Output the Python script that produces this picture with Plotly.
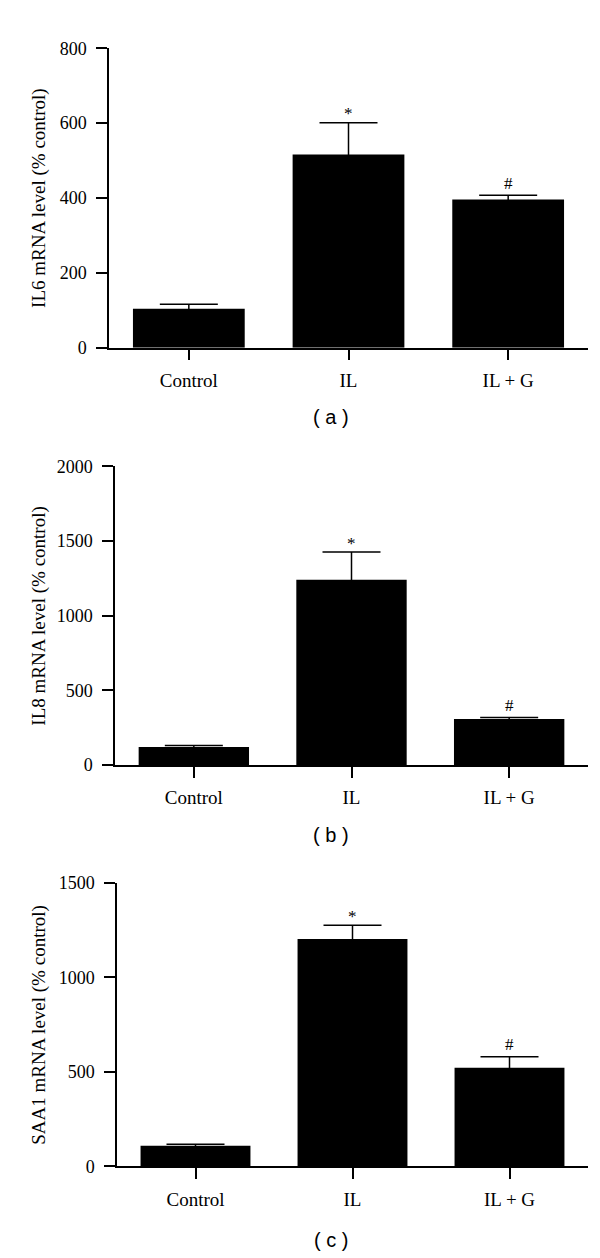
import plotly.graph_objects as go

categories = ["Control", "IL", "IL + G"]
il6_mean = [104, 516, 396]
il6_err = [12, 85, 11]
il8_mean = [121, 1241, 308]
il8_err = [9, 185, 10]
saa1_mean = [110, 1204, 523]
saa1_err = [7, 72, 58]
marks = ["", "*", "#"]

panels = [
    dict(mean=il6_mean, err=il6_err, title="IL6 mRNA level (% control)", ymax=800, dtick=200,
         xdom=[101, 580], ypx=[30.7, 335], label="( a )", label_y=405),
    dict(mean=il8_mean, err=il8_err, title="IL8 mRNA level (% control)", ymax=2000, dtick=500,
         xdom=[107, 580], ypx=[455.7, 759], label="( b )", label_y=830),
    dict(mean=saa1_mean, err=saa1_err, title="SAA1 mRNA level (% control)", ymax=1500, dtick=500,
         xdom=[109, 580], ypx=[879, 1167], label="( c )", label_y=1242),
]

W, H = 600, 1258
fig = go.Figure()
serif = "Liberation Serif, Times New Roman, serif"
annotations = []

for i, p in enumerate(panels, start=1):
    xa = "x" if i == 1 else f"x{i}"
    ya = "y" if i == 1 else f"y{i}"
    fig.add_trace(go.Bar(
        x=list(range(len(categories))), y=p["mean"], width=0.7,
        marker=dict(color="black", line=dict(width=0)),
        error_y=dict(type="data", symmetric=True, array=p["err"],
                     color="black", thickness=1.5, width=29),
        xaxis=xa, yaxis=ya, showlegend=False,
    ))
    xkey = "xaxis" if i == 1 else f"xaxis{i}"
    ykey = "yaxis" if i == 1 else f"yaxis{i}"
    fig.update_layout({
        xkey: dict(domain=[p["xdom"][0] / W, p["xdom"][1] / W], anchor=ya,
                   range=[-0.5, 2.5], tickmode="array", tickvals=list(range(len(categories))),
                   ticktext=categories, ticks="outside", ticklen=11, tickwidth=1.5, tickcolor="black",
                   showline=True, linecolor="black", linewidth=1.5, showgrid=False, zeroline=False,
                   tickfont=dict(family=serif, size=19, color="black"), ticklabelstandoff=4,
                   fixedrange=True),
        ykey: dict(domain=[1 - p["ypx"][1] / H, 1 - p["ypx"][0] / H], anchor=xa,
                   range=[0, p["ymax"]], dtick=p["dtick"], tick0=0,
                   ticks="outside", ticklen=11, tickwidth=1.5, tickcolor="black",
                   showline=True, linecolor="black", linewidth=1.5, showgrid=False, zeroline=False,
                   tickfont=dict(family=serif, size=18, color="black"), ticklabelstandoff=6,
                   fixedrange=True),
    })
    xref = "x" if i == 1 else f"x{i}"
    yref = "y" if i == 1 else f"y{i}"
    for j, m in enumerate(marks):
        if m:
            annotations.append(dict(x=j, y=p["mean"][j] + p["err"][j], xref=xref, yref=yref,
                                    text=m, showarrow=False, yanchor="middle",
                                    yshift=9 if m == "*" else 12,
                                    font=dict(family=serif, size=17, color="black")))
    ymid = (p["ypx"][0] + p["ypx"][1]) / 2
    annotations.append(dict(x=31 / W, y=1 - ymid / H, xref="paper", yref="paper",
                            text=p["title"], textangle=-90, showarrow=False,
                            xanchor="center", yanchor="middle",
                            font=dict(family=serif, size=19, color="black")))
    annotations.append(dict(x=323 / W, y=1 - p["label_y"] / H, xref="paper", yref="paper",
                            text=p["label"], showarrow=False, xanchor="center", yanchor="middle",
                            font=dict(family="Liberation Sans, Arial, sans-serif", size=20, color="black")))

fig.update_layout(
    width=W, height=H, margin=dict(l=0, r=0, t=0, b=0),
    paper_bgcolor="white", plot_bgcolor="white",
    annotations=annotations, bargap=0.3,
)

fig.write_html("out.html")
